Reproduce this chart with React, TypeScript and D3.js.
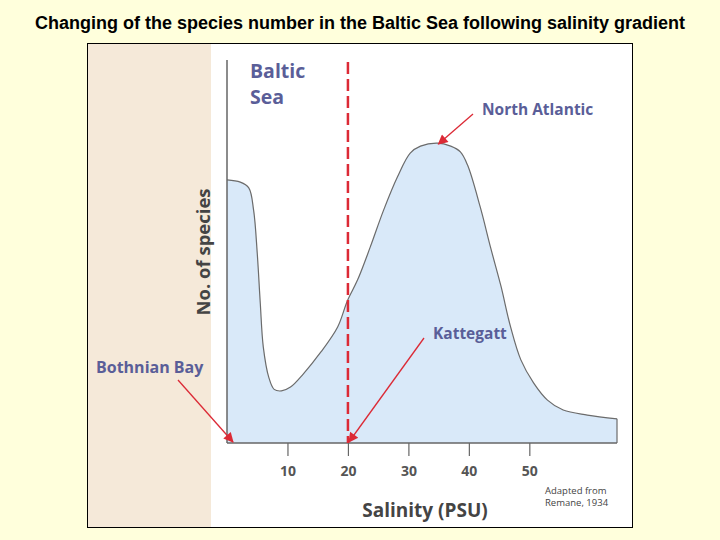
import React from "react";
import * as d3 from "d3";
import { useEffect, useRef } from "react";

// curve: salinity (PSU) -> relative number of species
const salinity = [0, 2.2, 3.6, 4.4, 5.0, 5.5, 6.0, 6.9, 7.8, 9.0, 10.5, 12.6, 15.5, 18.3, 19.9, 21.6, 23.7, 25.9, 28.2, 30.3, 32.0, 34.8, 37.0, 38.6, 39.8, 41.9, 43.6, 45.3, 46.9, 48.6, 50.7, 53.0, 55.6, 59.6, 64.5];
const species = [68.7, 68.1, 66.6, 60.8, 49.6, 36.6, 25.1, 17.2, 14.0, 13.6, 14.6, 18.0, 23.7, 30.3, 37.1, 42.6, 51.2, 60.8, 69.5, 75.7, 77.5, 78.3, 77.5, 76.0, 72.5, 61.5, 51.0, 41.0, 30.3, 21.7, 15.7, 11.2, 8.6, 7.3, 6.3];
const xTicks = [10, 20, 30, 40, 50];

const title = "Changing of the species number in the Baltic Sea following salinity gradient";
const labelFont = "'Open Sans', 'Noto Sans', sans-serif";
const blue = "#5a5e98";
const red = "#dc2a36";

function App() {
  const svgRef = useRef<SVGSVGElement>(null);
  const width = 720;
  const height = 540;

  useEffect(() => {
    document.body.style.margin = "0";
    const svg = d3.select(svgRef.current);
    svg.selectAll("*").remove();

    const x = d3.scaleLinear().domain([0, 64.5]).range([227, 617]);
    const y = d3.scaleLinear().domain([0, 100]).range([443, 60]);

    // page background and panel
    svg.append("rect").attr("width", width).attr("height", height).attr("fill", "#ffffdc");
    svg.append("rect").attr("x", 87.5).attr("y", 43.5).attr("width", 545).attr("height", 484)
      .attr("fill", "#fff").attr("stroke", "#000").attr("stroke-width", 1);
    svg.append("rect").attr("x", 88).attr("y", 44).attr("width", 123).attr("height", 483).attr("fill", "#f5e9d9");

    svg.append("text").attr("x", 360).attr("y", 29).attr("text-anchor", "middle")
      .attr("font-family", "'Liberation Sans', Arial, sans-serif").attr("font-weight", "bold")
      .attr("font-size", 18).attr("fill", "#000").text(title);

    const defs = svg.append("defs");
    defs.append("marker").attr("id", "head").attr("viewBox", "0 0 10 10")
      .attr("refX", 9).attr("refY", 5).attr("markerWidth", 13).attr("markerHeight", 10)
      .attr("markerUnits", "userSpaceOnUse").attr("orient", "auto")
      .append("path").attr("d", "M0,0L10,5L0,10Z").attr("fill", red);

    // area under the curve
    const pts = salinity.map((s, i) => [s, species[i]] as [number, number]);
    const curve = d3.curveCatmullRom.alpha(0.5);
    const area = d3.area<[number, number]>()
      .x((d) => x(d[0])).y0(y(0)).y1((d) => y(d[1]))
      .curve(curve);
    svg.append("path").datum(pts).attr("d", area).attr("fill", "#d9e9f9");
    const line = d3.line<[number, number]>().x((d) => x(d[0])).y((d) => y(d[1])).curve(curve);
    svg.append("path").datum(pts).attr("d", line).attr("fill", "none").attr("stroke", "#6b6b6b").attr("stroke-width", 1.2);
    svg.append("line").attr("x1", x(64.5)).attr("x2", x(64.5)).attr("y1", y(species[species.length - 1])).attr("y2", y(0))
      .attr("stroke", "#6b6b6b").attr("stroke-width", 1.2);

    // axes
    svg.append("line").attr("x1", 227).attr("x2", 227).attr("y1", 60).attr("y2", y(0))
      .attr("stroke", "#666").attr("stroke-width", 1.5);
    const xAxis = d3.axisBottom(x).tickValues(xTicks).tickSize(13).tickPadding(10);
    const gx = svg.append("g").attr("transform", `translate(0,${y(0)})`).call(xAxis);
    gx.select(".domain").remove();
    gx.append("line").attr("x1", 227).attr("x2", x(64.5)).attr("stroke", "#666").attr("stroke-width", 1.5);
    gx.selectAll(".tick line").attr("stroke", "#666").attr("stroke-width", 1.2);
    gx.selectAll(".tick text").attr("fill", "#555").attr("font-size", 14).attr("font-weight", "bold")
      .attr("font-family", labelFont);

    // dashed line at 20 PSU
    svg.append("line").attr("x1", x(20)).attr("x2", x(20)).attr("y1", 62).attr("y2", y(0))
      .attr("stroke", red).attr("stroke-width", 2.5).attr("stroke-dasharray", "12,5");

    // axis titles
    svg.append("text").attr("transform", `translate(210,252) rotate(-90)`).attr("text-anchor", "middle")
      .attr("font-family", labelFont).attr("font-weight", "bold").attr("font-size", 18.5).attr("fill", "#444")
      .text("No. of species");
    svg.append("text").attr("x", 425).attr("y", 517).attr("text-anchor", "middle")
      .attr("font-family", labelFont).attr("font-weight", "bold").attr("font-size", 19).attr("fill", "#444")
      .text("Salinity (PSU)");
    const note = svg.append("text").attr("font-family", labelFont).attr("font-size", 9.5).attr("fill", "#444");
    note.append("tspan").attr("x", 545).attr("y", 494).text("Adapted from");
    note.append("tspan").attr("x", 545).attr("y", 506).text("Remane, 1934");

    // labels
    const label = (tx: number, ty: number, size: number, txt: string) =>
      svg.append("text").attr("x", tx).attr("y", ty).attr("font-family", labelFont).attr("font-weight", "bold")
        .attr("font-size", size).attr("fill", blue).text(txt);
    label(250, 78, 19.5, "Baltic");
    label(250, 104, 19.5, "Sea");
    label(482, 115, 15.5, "North Atlantic");
    label(433, 339, 15.5, "Kattegatt");
    label(96, 373, 16, "Bothnian Bay");

    // arrows
    const arrow = (x1: number, y1: number, x2: number, y2: number) =>
      svg.append("line").attr("x1", x1).attr("y1", y1).attr("x2", x2).attr("y2", y2)
        .attr("stroke", red).attr("stroke-width", 1.3).attr("marker-end", "url(#head)");
    arrow(473, 114, x(34.8) + 1, y(78.3) + 1);
    arrow(424, 338, x(20) + 1, y(0) - 1);
    arrow(178, 380, x(0) + 6, y(0) - 1);
  }, []);

  return <svg ref={svgRef} width={width} height={height} style={{ display: "block" }}></svg>;
}

export default App;
